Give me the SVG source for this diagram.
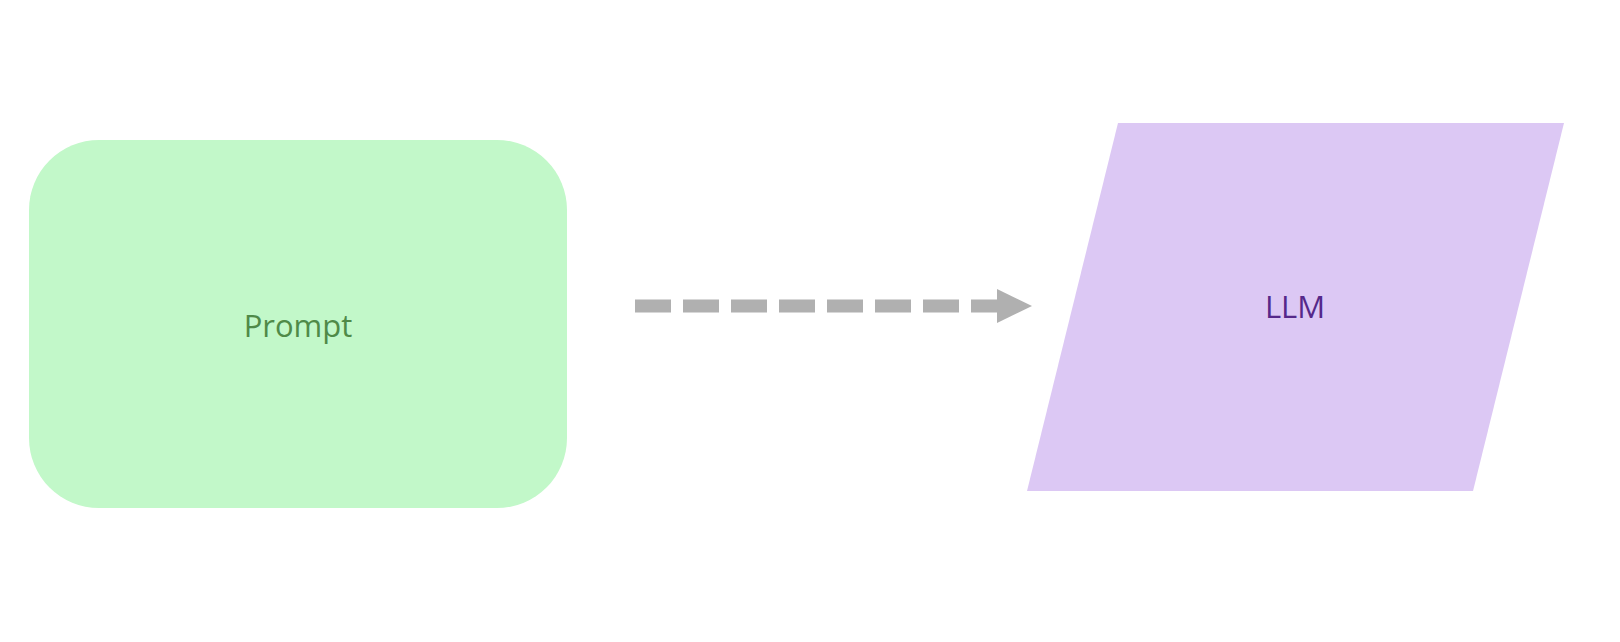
<svg xmlns="http://www.w3.org/2000/svg" width="1620" height="642" viewBox="0 0 1620 642">
  <style>
    .label { font-family: "Open Sans", "Liberation Sans", sans-serif; font-size: 31px; text-anchor: middle; }
    .prompt-fill { fill: #c2f8c9; }
    .prompt-text { fill: #4f8a48; }
    .llm-fill { fill: #dcc8f4; }
    .llm-text { fill: #55288a; }
    .flow { stroke: #b0b0b0; stroke-width: 13; stroke-dasharray: 36 12; fill: none; }
  </style>
  <rect width="1620" height="642" fill="#ffffff"/>

  <g id="prompt">
    <rect class="prompt-fill" x="29" y="140" width="538" height="368" rx="70" ry="70"/>
    <text class="label prompt-text" x="298" y="337">Prompt</text>
  </g>

  <g id="llm">
    <polygon class="llm-fill" points="1118,123 1564,123 1473,491 1027,491"/>
    <text class="label llm-text" x="1295" y="318">LLM</text>
  </g>

  <g id="connectors">
    <line class="flow" x1="635" y1="306" x2="998" y2="306"/>
    <polygon fill="#b0b0b0" points="997,289 1032,306 997,323"/>
  </g>
</svg>
